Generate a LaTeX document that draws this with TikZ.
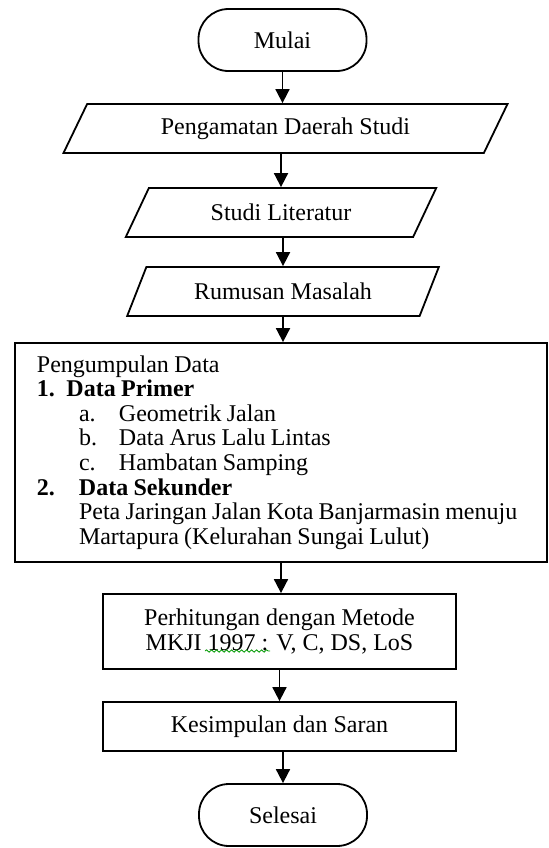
\documentclass[tikz,border=0pt]{standalone}
\usepackage{fontspec}
\setmainfont{Liberation Serif}
\usepackage{tikz}
\usetikzlibrary{shapes.geometric, arrows.meta, decorations.pathmorphing}

\tikzset{
	teks/.style={font=\fontsize{12}{12.3}\selectfont},
	terminal/.style={teks, draw, line width=0.9pt, rounded corners=15pt, minimum width=84pt, minimum height=31pt},
	io/.style={teks, draw, line width=0.9pt, trapezium, trapezium left angle=66, trapezium right angle=114, trapezium stretches=true, minimum height=24.5pt},
	proses/.style={teks, draw, line width=0.9pt, minimum width=176.5pt, align=center},
	panah/.style={line width=0.9pt, -{Triangle[length=7pt,width=7pt]}}
}

\begin{document}
\begin{tikzpicture}[x=0.5pt, y=-0.5pt]
	\useasboundingbox (0,0) rectangle (549,848);
	\node[terminal] (mulai) at (282.5,40) {Mulai};
	\node[io, minimum width=222.5pt] (amati) at (285.5,128.5) {Pengamatan Daerah Studi};
	\node[io, minimum width=156pt] (studi) at (281,212.5) {Studi Literatur};
	\node[io, minimum width=156pt] (rumusan) at (283,291.5) {Rumusan Masalah};
	\node[teks, draw, line width=0.9pt, minimum width=266pt, minimum height=109.5pt, text width=244pt, inner xsep=11pt, align=flush left] (data) at (281,452.5) {\spaceskip=0.22em plus 0.05em minus 0.05em\relax Pengumpulan Data\\
		\textbf{\makebox[14.75pt][l]{1.}Data Primer}\\
		\hspace*{21pt}\makebox[20pt][l]{a.}Geometrik Jalan\\
		\hspace*{21pt}\makebox[20pt][l]{b.}Data Arus Lalu Lintas\\
		\hspace*{21pt}\makebox[20pt][l]{c.}Hambatan Samping\\
		\textbf{\makebox[21pt][l]{2.}Data Sekunder}\\
		\hspace*{21pt}Peta Jaringan Jalan Kota Banjarmasin menuju\\
		\hspace*{21pt}Martapura (Kelurahan Sungai Lulut)};
	\node[proses, minimum height=37.5pt] (hitung) at (279.5,631.5) {Perhitungan dengan Metode\\MKJI 1997 : V, C, DS, LoS};
	\node[proses, minimum height=24.5pt] (simpul) at (279.5,726.5) {Kesimpulan dan Saran};
	\node[terminal] (selesai) at (283,815) {Selesai};
	% garis alur
	\draw[panah] (mulai.south) -- (mulai.south |- amati.north);
	\draw[panah] (studi.north |- amati.south) -- (studi.north);
	\draw[panah] (rumusan.north |- studi.south) -- (rumusan.north);
	\draw[panah] (rumusan.south) -- (rumusan.south |- data.north);
	\draw[panah] (data.south) -- (data.south |- hitung.north);
	\draw[panah] (hitung.south) -- (hitung.south |- simpul.north);
	\draw[panah] (selesai.north |- simpul.south) -- (selesai.north);
	\draw[green!60!black, line width=0.4pt, decorate, decoration={snake, amplitude=0.6pt, segment length=2.5pt}] (205,651) -- (270,651);
\end{tikzpicture}
\end{document}
